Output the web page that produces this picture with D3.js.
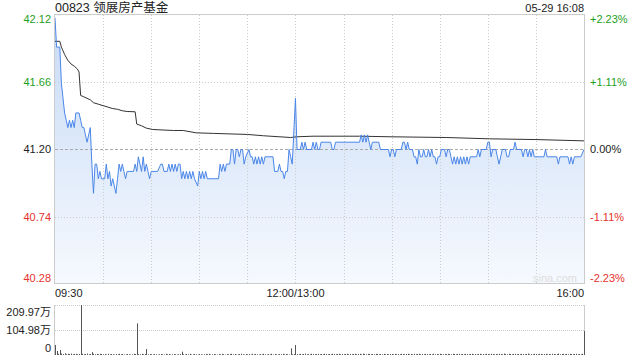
<!DOCTYPE html>
<html>
<head>
<meta charset="utf-8">
<script src="https://cdn.jsdelivr.net/npm/d3@7"></script>
<style>
  body { margin: 0; background: #fff; }
  svg text { font-family: 'Liberation Sans', Arial, 'Noto Sans CJK SC', sans-serif; }
</style>
</head>
<body>
<svg id="chart" width="640" height="360"></svg>
<script>
'use strict'

// header / axes
const title = '00823 领展房产基金'
const stamp = '05-29 16:08'
const prevClose = 41.20
const priceTicks = [42.12, 41.66, 41.20, 40.74, 40.28]
const pctTicks = ['+2.23%', '+1.11%', '0.00%', '-1.11%', '-2.23%']
const timeLabels = ['09:30', '12:00/13:00', '16:00']
const timeLabelMinutes = [0, 150, 330]
const volTicks = [209.97, 104.98, 0]
const volTickLabels = ['209.97万', '104.98万', '0']

// [minute from 09:30 (lunch removed), price]
const pricePoints = [
  [0,42.10],[1,41.90],[3,41.90],[4,41.65],[5,41.55],[6,41.45],[7,41.40],[8,41.35],[9,41.40],[10,41.35],
  [11,41.40],[12,41.35],[13,41.45],[15,41.45],[16,41.40],[17,41.35],[18,41.35],[19,41.30],[20,41.25],[21,41.30],
  [22,41.35],[23,41.10],[24,40.90],[25,41.10],[26,41.10],[27,41.00],[28,41.05],[29,41.00],[31,41.00],[32,41.10],
  [33,41.00],[34,41.05],[35,40.95],[36,41.00],[37,40.95],[38,40.90],[39,41.00],[40,41.10],[41,41.05],[42,41.10],
  [43,41.05],[44,41.00],[45,41.05],[49,41.05],[50,41.10],[51,41.05],[52,41.15],[53,41.10],[54,41.05],[55,41.15],
  [56,41.05],[57,41.10],[58,41.05],[59,41.00],[60,41.05],[64,41.05],[66,41.10],[67,41.10],[68,41.05],[70,41.05],
  [71,41.10],[72,41.05],[73,41.10],[74,41.05],[75,41.10],[76,41.05],[77,41.10],[78,41.10],[79,41.00],[80,41.05],
  [81,41.00],[82,41.05],[83,41.00],[84,41.05],[85,41.00],[86,41.05],[87,41.00],[89,40.95],[90,41.05],[91,41.00],
  [92,41.05],[93,41.00],[94,41.05],[95,41.00],[102,41.00],[103,41.10],[104,41.05],[105,41.10],[106,41.05],[107,41.10],
  [109,41.10],[110,41.20],[111,41.20],[112,41.10],[113,41.20],[114,41.20],[115,41.15],[116,41.20],[117,41.20],[118,41.10],
  [119,41.15],[121,41.20],[122,41.15],[123,41.15],[124,41.10],[125,41.15],[126,41.10],[127,41.15],[128,41.10],[129,41.15],
  [130,41.10],[131,41.15],[136,41.15],[137,41.05],[139,41.05],[140,41.10],[141,41.05],[142,41.05],[143,41.00],[144,41.05],
  [145,41.05],[146,41.20],[147,41.15],[148,41.10],[150,41.55],[151,41.20],[153,41.20],[154,41.25],[155,41.20],[156,41.25],
  [157,41.20],[160,41.20],[161,41.25],[162,41.20],[163,41.25],[164,41.20],[165,41.20],[166,41.25],[172,41.25],[173,41.20],
  [174,41.20],[175,41.25],[190,41.25],[191,41.30],[192,41.25],[193,41.30],[194,41.25],[195,41.30],[196,41.25],[197,41.20],
  [198,41.25],[202,41.25],[203,41.20],[208,41.20],[209,41.15],[210,41.20],[211,41.20],[212,41.15],[213,41.20],[216,41.20],
  [217,41.25],[218,41.25],[219,41.20],[220,41.25],[221,41.20],[223,41.20],[224,41.15],[225,41.15],[226,41.10],[227,41.20],
  [228,41.15],[229,41.15],[230,41.20],[231,41.15],[232,41.15],[233,41.20],[234,41.15],[235,41.20],[236,41.15],[237,41.15],
  [238,41.10],[239,41.15],[240,41.15],[241,41.20],[243,41.20],[244,41.15],[245,41.20],[246,41.20],[247,41.15],[248,41.10],
  [249,41.15],[250,41.10],[251,41.15],[252,41.10],[253,41.15],[254,41.10],[255,41.15],[256,41.10],[257,41.15],[258,41.10],
  [259,41.15],[263,41.15],[264,41.20],[265,41.15],[266,41.20],[269,41.20],[270,41.25],[271,41.25],[272,41.15],[273,41.20],
  [275,41.20],[276,41.15],[277,41.10],[278,41.15],[279,41.20],[281,41.20],[282,41.15],[283,41.15],[284,41.20],[286,41.20],
  [287,41.25],[288,41.20],[291,41.20],[292,41.15],[293,41.20],[294,41.20],[295,41.15],[296,41.20],[297,41.15],[298,41.20],
  [299,41.15],[305,41.15],[306,41.20],[307,41.15],[313,41.15],[314,41.10],[315,41.15],[320,41.15],[321,41.10],[322,41.15],
  [323,41.10],[324,41.15],[328,41.15],[330,41.20]
]

// average price line
const avgPoints = [
  [0,41.94],[3,41.94],[4,41.90],[6,41.85],[8,41.81],[10,41.785],[12,41.77],[14,41.75],[15,41.73],[16,41.57],
  [18,41.56],[20,41.55],[22,41.54],[24,41.52],[27,41.51],[30,41.50],[33,41.49],[36,41.48],[39,41.475],[42,41.465],
  [45,41.46],[50,41.458],[51,41.374],[54,41.362],[57,41.346],[61,41.337],[68,41.333],[74,41.33],[80,41.33],[88,41.314],
  [99,41.31],[120,41.303],[130,41.294],[147,41.282],[151,41.287],[161,41.291],[190,41.291],[209,41.287],[244,41.282],
  [271,41.273],[300,41.268],[330,41.259]
]

// volume per minute, 万股
const volume = [
  42,17,5,21,6,4,7,3,5,4,6,3,4,5,3,4,209.97,5,3,4,6,3,4,12,5,3,4,3,5,4,
  3,4,2,5,3,4,3,2,4,3,5,3,4,2,3,4,3,2,3,5,4,133,4,3,5,3,4,25,3,4,
  3,2,4,3,2,3,4,3,2,5,3,4,2,3,4,3,2,3,4,14,3,2,4,3,5,2,3,4,3,2,
  4,3,2,3,4,3,5,2,3,4,3,2,4,3,5,3,2,4,3,4,5,3,4,2,3,4,5,3,2,4,
  3,4,2,5,3,4,3,2,4,3,5,3,2,4,3,5,2,4,3,2,4,3,5,3,4,3,2,28,3,4,
  42,4,3,5,3,4,6,3,4,3,5,4,3,4,5,3,4,3,5,4,3,4,3,5,4,3,4,5,3,4,
  3,4,5,3,4,3,4,5,3,4,5,3,6,4,3,5,4,3,4,3,5,4,3,4,3,5,3,4,3,4,
  4,3,5,3,4,3,5,4,3,4,5,3,4,3,5,3,4,5,3,4,3,5,4,3,4,3,5,3,4,3,
  5,4,3,4,3,5,4,3,5,4,3,4,5,3,4,3,5,4,3,4,5,3,4,3,4,5,3,4,3,5,
  4,3,5,4,3,4,3,5,4,3,6,4,3,5,4,3,4,5,3,4,3,5,4,3,4,6,3,4,3,5,
  4,3,5,4,3,4,5,3,4,3,5,4,3,4,6,3,4,5,3,4,3,5,4,3,4,5,3,4,3,5,101
]

const GREEN = '#1ea01e'
const RED = '#e6322e'
const GRID = '#ccc'
const LEFT = 55, RIGHT = 584, TOP = 15, BOTTOM = 284, VTOP = 305, VBOT = 355

const svg = d3.select('#chart')
const x = d3.scaleLinear().domain([0, 330]).range([LEFT, RIGHT])
const y = d3.scaleLinear().domain([priceTicks[4], priceTicks[0]]).range([BOTTOM, TOP])
const yv = d3.scaleLinear().domain([0, volTicks[0]]).range([VBOT, VTOP])
const crisp = (v) => Math.round(v) + 0.5

const colorFor = (p) => p > prevClose + 1e-9 ? GREEN : (p < prevClose - 1e-9 ? RED : '#222')

// gradient for the area
const grad = svg.append('defs').append('linearGradient')
  .attr('id', 'areaFill').attr('gradientUnits', 'userSpaceOnUse')
  .attr('x1', 0).attr('y1', TOP).attr('x2', 0).attr('y2', BOTTOM)
grad.append('stop').attr('offset', 0).attr('stop-color', '#c6daf6')
grad.append('stop').attr('offset', 1).attr('stop-color', '#f6f9fe')

// area under the price line
svg.append('path').datum(pricePoints)
  .attr('fill', 'url(#areaFill)')
  .attr('d', d3.area().x((d) => x(d[0])).y0(BOTTOM).y1((d) => y(d[1])))

// grid
const grid = svg.append('g').attr('class', 'grid')
grid.selectAll('line.v').data(d3.range(30, 330, 30)).enter().append('line')
  .attr('x1', (m) => crisp(x(m))).attr('x2', (m) => crisp(x(m)))
  .attr('y1', TOP).attr('y2', BOTTOM)
  .attr('stroke', GRID).attr('stroke-dasharray', '1,2')
grid.selectAll('line.h').data([priceTicks[1], priceTicks[3]]).enter().append('line')
  .attr('x1', LEFT).attr('x2', RIGHT)
  .attr('y1', (p) => crisp(y(p))).attr('y2', (p) => crisp(y(p)))
  .attr('stroke', GRID).attr('stroke-dasharray', '1,2')
grid.append('line')
  .attr('x1', LEFT).attr('x2', RIGHT)
  .attr('y1', crisp(y(prevClose))).attr('y2', crisp(y(prevClose)))
  .attr('stroke', '#aaa').attr('stroke-dasharray', '3,2')

svg.append('path').datum(avgPoints)
  .attr('fill', 'none').attr('stroke', '#333').attr('stroke-width', 1)
  .attr('d', d3.line().x((d) => x(d[0])).y((d) => y(d[1])))
svg.append('path').datum(pricePoints)
  .attr('fill', 'none').attr('stroke', '#4a86e8').attr('stroke-width', 1)
  .attr('d', d3.line().x((d) => x(d[0])).y((d) => y(d[1])))

// frame
svg.append('rect')
  .attr('x', LEFT - 0.5).attr('y', TOP - 0.5)
  .attr('width', RIGHT - LEFT + 1).attr('height', BOTTOM - TOP)
  .attr('fill', 'none').attr('stroke', GRID)

svg.append('text').text('sina.com')
  .attr('x', 577).attr('y', 278).attr('dy', '0.35em')
  .attr('text-anchor', 'end').attr('font-size', 11).attr('fill', '#ddd')

// left / right price labels
const labelY = (p, i) => i === 0 ? 19 : (i === priceTicks.length - 1 ? 278 : y(p))
svg.append('g').selectAll('text').data(priceTicks).enter().append('text')
  .text((p) => p.toFixed(2))
  .attr('x', 51).attr('y', labelY).attr('dy', '0.35em')
  .attr('text-anchor', 'end').attr('font-size', 11)
  .attr('fill', colorFor)
svg.append('g').selectAll('text').data(priceTicks).enter().append('text')
  .text((p, i) => pctTicks[i])
  .attr('x', 590).attr('y', labelY).attr('dy', '0.35em')
  .attr('font-size', 11)
  .attr('fill', colorFor)

// header
svg.append('text').text(title)
  .attr('x', LEFT).attr('y', 8).attr('dy', '0.35em')
  .attr('font-size', 12.5).attr('fill', '#222')
svg.append('text').text(stamp)
  .attr('x', RIGHT).attr('y', 8).attr('dy', '0.35em')
  .attr('text-anchor', 'end').attr('font-size', 11).attr('fill', '#222')

// time labels
svg.append('g').selectAll('text').data(timeLabels).enter().append('text')
  .text((t) => t)
  .attr('x', (t, i) => x(timeLabelMinutes[i])).attr('y', 293).attr('dy', '0.35em')
  .attr('text-anchor', (t, i) => ['start', 'middle', 'end'][i])
  .attr('font-size', 11).attr('fill', '#222')

// volume panel
svg.append('g').selectAll('line').data(volTicks.slice(0, 2)).enter().append('line')
  .attr('x1', LEFT).attr('x2', RIGHT)
  .attr('y1', (v) => crisp(yv(v))).attr('y2', (v) => crisp(yv(v)))
  .attr('stroke', GRID).attr('stroke-dasharray', '1,1')
svg.append('line').attr('x1', LEFT - 0.5).attr('x2', LEFT - 0.5).attr('y1', VTOP).attr('y2', VBOT)
  .attr('stroke', GRID)
svg.append('line').attr('x1', RIGHT + 0.5).attr('x2', RIGHT + 0.5).attr('y1', VTOP).attr('y2', VBOT)
  .attr('stroke', GRID)

svg.append('g').selectAll('line').data(volume).enter().append('line')
  .attr('x1', (v, i) => crisp(x(i))).attr('x2', (v, i) => crisp(x(i)))
  .attr('y1', VBOT).attr('y2', (v) => yv(v))
  .attr('stroke', '#555').attr('stroke-width', 1)

svg.append('g').selectAll('text').data(volTicks).enter().append('text')
  .text((v, i) => volTickLabels[i])
  .attr('x', 51).attr('y', (v, i) => i === 0 ? 312 : (i === 2 ? 348 : yv(v))).attr('dy', '0.35em')
  .attr('text-anchor', 'end').attr('font-size', 11).attr('fill', '#222')
</script>
</body>
</html>
